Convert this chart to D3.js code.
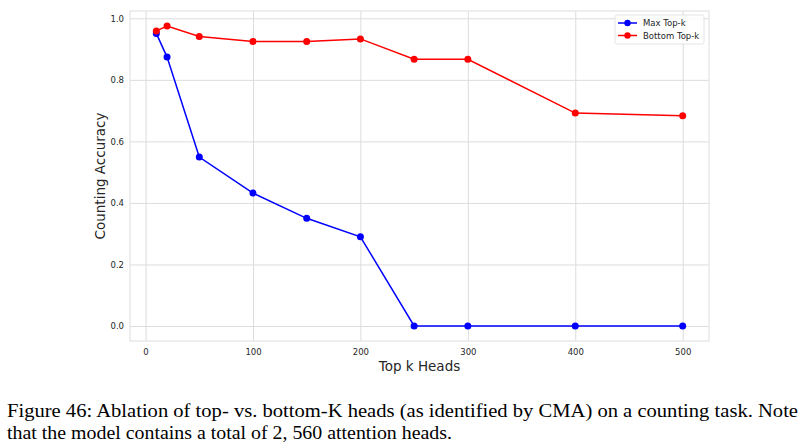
<!DOCTYPE html>
<html>
<head>
<meta charset="utf-8">
<script src="https://cdn.jsdelivr.net/npm/d3@7"></script>
<style>
  body { margin: 0; background: #fff; }
  svg { display: block; }
</style>
</head>
<body>
<svg id="chart" width="802" height="446"></svg>
<script>
// data
var kValues = [10, 20, 50, 100, 150, 200, 250, 300, 400, 500];
var maxTopK = [0.951, 0.874, 0.549, 0.432, 0.350, 0.290, 0, 0, 0, 0];
var bottomTopK = [0.959, 0.975, 0.941, 0.925, 0.925, 0.933, 0.867, 0.867, 0.692, 0.683];
var xTicks = [0, 100, 200, 300, 400, 500];
var yTicks = [0.0, 0.2, 0.4, 0.6, 0.8, 1.0];
var seriesNames = ["Max Top-k", "Bottom Top-k"];
var seriesColors = ["#0000ff", "#ff0000"];

var svg = d3.select("#chart");

var margins = { left: 130, top: 11, right: 709, bottom: 341 };

var xScale = d3.scaleLinear().domain([-14.5, 524.5]).range([margins.left, margins.right]);
var yScale = d3.scaleLinear().domain([-0.04875, 1.02375]).range([margins.bottom, margins.top]);

var tickFont = "DejaVu Sans, sans-serif";

// grid
var xAxis = svg.append("g")
    .attr("transform", "translate(0," + margins.bottom + ")")
    .call(d3.axisBottom(xScale).tickValues(xTicks).tickSize(-(margins.bottom - margins.top)).tickPadding(8).tickFormat(d3.format("d")));
var yAxis = svg.append("g")
    .attr("transform", "translate(" + margins.left + ",0)")
    .call(d3.axisLeft(yScale).tickValues(yTicks).tickSize(-(margins.right - margins.left)).tickPadding(6).tickFormat(d3.format(".1f")));

[xAxis, yAxis].forEach(function(ax) {
    ax.select(".domain").remove();
    ax.selectAll(".tick line").attr("stroke", "#dcdcdc").attr("stroke-width", 1);
    ax.selectAll(".tick text").attr("fill", "#262626").style("font-family", tickFont).style("font-size", "8.5px");
});

// frame
svg.append("rect")
    .attr("x", margins.left).attr("y", margins.top)
    .attr("width", margins.right - margins.left).attr("height", margins.bottom - margins.top)
    .attr("fill", "none").attr("stroke", "#e3e3e3").attr("stroke-width", 1.2);

// axis labels
svg.append("text")
    .attr("x", (margins.left + margins.right) / 2).attr("y", 371)
    .attr("text-anchor", "middle")
    .style("font-family", tickFont).style("font-size", "13.5px").attr("fill", "#262626")
    .text("Top k Heads");
svg.append("text")
    .attr("transform", "translate(105," + (margins.top + margins.bottom) / 2 + ") rotate(-90)")
    .attr("text-anchor", "middle")
    .style("font-family", tickFont).style("font-size", "13.5px").attr("fill", "#262626")
    .text("Counting Accuracy");

// lines
var allSeries = [maxTopK, bottomTopK];
var line = d3.line()
    .x(function(d, i) { return xScale(kValues[i]); })
    .y(function(d) { return yScale(d); });

allSeries.forEach(function(vals, s) {
    svg.append("path")
        .datum(vals)
        .attr("d", line)
        .attr("fill", "none")
        .attr("stroke", seriesColors[s])
        .attr("stroke-width", 1.5);
    svg.selectAll(".dot" + s)
        .data(vals)
        .enter().append("circle")
        .attr("class", "dot" + s)
        .attr("cx", function(d, i) { return xScale(kValues[i]); })
        .attr("cy", function(d) { return yScale(d); })
        .attr("r", 3.5)
        .attr("fill", seriesColors[s]);
});

// legend
var legend = svg.append("g").attr("transform", "translate(615,15)");
legend.append("rect")
    .attr("width", 89).attr("height", 29).attr("rx", 2)
    .attr("fill", "#fff").attr("fill-opacity", 0.8)
    .attr("stroke", "#dddddd").attr("stroke-width", 0.8);
seriesNames.forEach(function(name, s) {
    var y = 8 + s * 12.5;
    legend.append("line")
        .attr("x1", 3).attr("x2", 22).attr("y1", y).attr("y2", y)
        .attr("stroke", seriesColors[s]).attr("stroke-width", 1.5);
    legend.append("circle")
        .attr("cx", 12.5).attr("cy", y).attr("r", 3.2).attr("fill", seriesColors[s]);
    legend.append("text")
        .attr("x", 28).attr("y", y + 3)
        .style("font-family", tickFont).style("font-size", "8.5px").attr("fill", "#262626")
        .text(name);
});

// caption
var caption = svg.append("g").style("font-family", "'Liberation Serif', 'Times New Roman', serif").style("font-size", "18px").attr("fill", "#000");
caption.append("text")
    .attr("x", 7).attr("y", 417)
    .attr("textLength", 791).attr("lengthAdjust", "spacingAndGlyphs")
    .text("Figure 46: Ablation of top- vs.  bottom-K heads (as identified by CMA) on a counting task.  Note");
caption.append("text")
    .attr("x", 7).attr("y", 439)
    .attr("textLength", 445).attr("lengthAdjust", "spacingAndGlyphs")
    .text("that the model contains a total of 2, 560 attention heads.");
</script>
</body>
</html>
